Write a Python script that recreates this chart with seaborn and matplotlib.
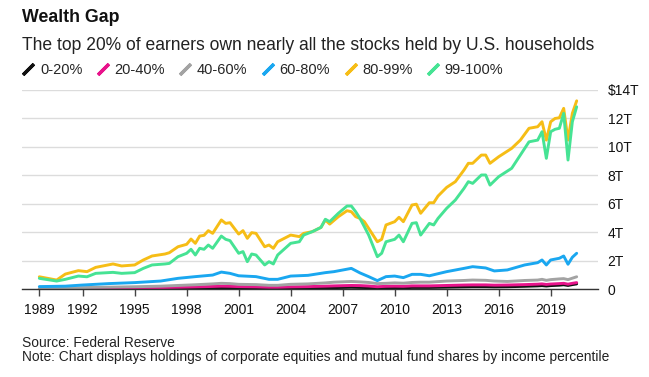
import pandas as pd
import numpy as np
import seaborn as sns
import matplotlib.pyplot as plt
from matplotlib.lines import Line2D

groups = ['0-20%', '20-40%', '40-60%', '60-80%', '80-99%', '99-100%']
colors = ['#111111', '#e8138b', '#a3a3a3', '#1aa7f0', '#f6bd16', '#46e394']

# quarterly-ish points for the two top groups (trillions of dollars)
years_top = [1989.5, 1990.5, 1991.0, 1991.75, 1992.25, 1992.75, 1993.75, 1994.25, 1995.0, 1995.5,
             1996.0, 1996.75, 1997.0, 1997.5, 1998.0, 1998.25, 1998.5, 1998.75, 1999.0, 1999.25,
             1999.5, 2000.0, 2000.25, 2000.5, 2001.0, 2001.25, 2001.5, 2001.75, 2002.0, 2002.5,
             2002.75, 2003.0, 2003.25, 2004.0, 2004.5, 2004.75, 2005.25, 2005.75, 2006.0, 2006.25,
             2006.75, 2007.25, 2007.5, 2007.75, 2008.0, 2008.25, 2008.5, 2009.0, 2009.25, 2009.5,
             2010.0, 2010.25, 2010.5, 2011.0, 2011.25, 2011.5, 2012.0, 2012.25, 2012.5, 2013.0,
             2013.5, 2014.0, 2014.25, 2014.5, 2015.0, 2015.25, 2015.5, 2016.0, 2016.75, 2017.25,
             2017.75, 2018.25, 2018.5, 2018.75, 2019.0, 2019.25, 2019.5, 2019.75, 2020.0, 2020.25,
             2020.5]
pct_80_99 = [0.88, 0.65, 1.07, 1.31, 1.24, 1.54, 1.78, 1.64, 1.71, 2.06,
             2.34, 2.48, 2.57, 2.99, 3.16, 3.53, 3.23, 3.74, 3.79, 4.12,
             3.93, 4.87, 4.63, 4.68, 3.88, 4.12, 3.58, 3.98, 3.93, 2.99,
             3.11, 2.88, 3.34, 3.81, 3.70, 3.93, 4.05, 4.35, 4.87, 4.58,
             5.10, 5.52, 5.45, 5.10, 4.98, 4.75, 4.28, 3.34, 3.51, 4.52,
             4.75, 5.06, 4.75, 5.92, 5.98, 5.34, 6.08, 6.08, 6.55, 7.16,
             7.56, 8.38, 8.85, 8.85, 9.43, 9.43, 8.85, 9.31, 9.90, 10.48,
             11.31, 11.42, 11.77, 10.48, 11.77, 12.00, 12.05, 12.71, 10.48, 12.36,
             13.24]
pct_99_100 = [0.77, 0.58, 0.70, 0.93, 0.88, 1.12, 1.19, 1.12, 1.17, 1.47,
              1.71, 1.78, 1.82, 2.29, 2.53, 2.81, 2.41, 2.88, 2.81, 3.11,
              2.88, 3.74, 3.51, 3.42, 2.53, 2.65, 1.94, 2.48, 2.41, 1.71,
              1.94, 1.78, 2.41, 3.23, 3.34, 3.81, 4.05, 4.35, 4.92, 4.75,
              5.34, 5.85, 5.85, 5.45, 4.98, 4.40, 3.81, 2.29, 2.53, 3.34,
              3.51, 3.81, 3.34, 4.63, 4.68, 3.81, 4.63, 4.52, 4.98, 5.69,
              6.27, 7.09, 7.56, 7.44, 8.03, 8.03, 7.32, 7.91, 8.50, 9.43,
              10.36, 10.48, 11.07, 9.20, 11.07, 11.24, 11.31, 12.36, 9.08, 11.77,
              12.82]

# coarser points for the lower groups
years_low = [1989.5, 1991.0, 1992.0, 1993.5, 1995.0, 1996.5, 1997.5, 1998.5, 1999.5, 2000.0,
             2000.5, 2001.0, 2002.0, 2002.75, 2003.25, 2004.0, 2005.0, 2006.0, 2006.5, 2007.5,
             2008.0, 2008.5, 2009.0, 2009.5, 2010.0, 2010.5, 2011.0, 2011.5, 2012.0, 2013.0,
             2014.0, 2014.5, 2015.25, 2015.75, 2016.5, 2017.5, 2018.25, 2018.5, 2018.75, 2019.0,
             2019.5, 2019.75, 2020.0, 2020.25, 2020.5]
pct_60_80 = [0.19, 0.22, 0.30, 0.40, 0.47, 0.58, 0.77, 0.89, 1.00, 1.21,
             1.12, 0.95, 0.89, 0.70, 0.70, 0.93, 0.98, 1.17, 1.24, 1.47,
             1.15, 0.89, 0.61, 0.89, 0.93, 0.82, 1.05, 1.05, 0.95, 1.24,
             1.47, 1.59, 1.50, 1.29, 1.36, 1.71, 1.87, 2.06, 1.71, 2.06,
             2.18, 2.34, 1.76, 2.25, 2.53]
pct_40_60 = [0.05, 0.08, 0.12, 0.15, 0.18, 0.22, 0.27, 0.32, 0.38, 0.42,
             0.40, 0.35, 0.33, 0.28, 0.28, 0.35, 0.38, 0.45, 0.50, 0.55,
             0.52, 0.48, 0.40, 0.42, 0.45, 0.43, 0.48, 0.50, 0.50, 0.58,
             0.62, 0.65, 0.63, 0.58, 0.55, 0.62, 0.65, 0.70, 0.63, 0.68,
             0.73, 0.75, 0.68, 0.78, 0.88]
pct_20_40 = [0.02, 0.04, 0.06, 0.08, 0.10, 0.12, 0.14, 0.17, 0.20, 0.22,
             0.21, 0.19, 0.17, 0.14, 0.14, 0.17, 0.19, 0.22, 0.24, 0.27,
             0.26, 0.23, 0.18, 0.21, 0.22, 0.21, 0.24, 0.24, 0.24, 0.27,
             0.30, 0.31, 0.31, 0.29, 0.30, 0.33, 0.36, 0.38, 0.34, 0.37,
             0.40, 0.42, 0.36, 0.42, 0.47]
pct_0_20 = [0.01, 0.02, 0.03, 0.04, 0.05, 0.06, 0.07, 0.08, 0.10, 0.11,
            0.10, 0.09, 0.08, 0.07, 0.07, 0.08, 0.09, 0.11, 0.12, 0.14,
            0.13, 0.12, 0.10, 0.11, 0.12, 0.11, 0.13, 0.13, 0.13, 0.15,
            0.17, 0.18, 0.18, 0.17, 0.18, 0.21, 0.24, 0.26, 0.23, 0.26,
            0.29, 0.32, 0.27, 0.33, 0.38]

tick_years = [1989.5, 1992, 1995, 1998, 2001, 2004, 2007, 2010, 2013, 2016, 2019]
tick_labels = ['1989', '1992', '1995', '1998', '2001', '2004', '2007', '2010', '2013', '2016', '2019']
y_ticks = [0, 2, 4, 6, 8, 10, 12, 14]
y_labels = ['0', '2T', '4T', '6T', '8T', '10T', '12T', '$14T']

series = [(years_low, pct_0_20), (years_low, pct_20_40), (years_low, pct_40_60),
          (years_low, pct_60_80), (years_top, pct_80_99), (years_top, pct_99_100)]
frames = []
for name, (yrs, vals) in zip(groups, series):
    frames.append(pd.DataFrame({'year': yrs, 'value': vals, 'group': name}))
df = pd.concat(frames, ignore_index=True)

sns.set_theme(style='white')
plt.rcParams['font.family'] = ['Liberation Sans', 'DejaVu Sans']

fig = plt.figure(figsize=(6.49, 3.77), dpi=100)
ax = fig.add_axes([22 / 649, 87.7 / 377, 576 / 649, 199.3 / 377])

sns.lineplot(data=df, x='year', y='value', hue='group', hue_order=groups,
             palette=colors, estimator=None, linewidth=2.1, legend=False, ax=ax)

ax.set_xlim(1988.5, 2021.73)
ax.set_ylim(0, 14)
ax.set_xlabel('')
ax.set_ylabel('')
ax.set_xticks(tick_years)
ax.set_xticklabels(tick_labels)
ax.yaxis.tick_right()
ax.set_yticks(y_ticks)
ax.set_yticklabels(y_labels)
ax.grid(axis='y', color='#dcdcdc', linewidth=1)
ax.set_axisbelow(True)
for side in ['top', 'left', 'right']:
    ax.spines[side].set_visible(False)
ax.spines['bottom'].set_color('#333333')
ax.spines['bottom'].set_linewidth(1)
ax.tick_params(axis='x', bottom=True, direction='out', length=5, width=1,
               color='#444444', labelsize=10, labelcolor='#111111', pad=5)
ax.tick_params(axis='y', length=0, labelsize=10, labelcolor='#111111', pad=7)
for lbl in ax.get_yticklabels():
    lbl.set_horizontalalignment('left')

handles = [Line2D([0], [0], color=c, linestyle='None', marker=(2, 2, -45),
                  markersize=11, markeredgewidth=2.4) for c in colors]
ax.legend(handles, groups, ncol=6, loc='center left', frameon=False,
          bbox_to_anchor=(16 / 649, 1 - 70 / 377), bbox_transform=fig.transFigure,
          borderaxespad=0, handlelength=0.9, handletextpad=0.35, columnspacing=0.95,
          fontsize=10.5)

fig.text(22 / 649, 1 - 18 / 377, 'Wealth Gap', fontsize=12.8, fontweight='bold',
         va='center', ha='left', color='#111111')
fig.text(22 / 649, 1 - 45 / 377,
         'The top 20% of earners own nearly all the stocks held by U.S. households',
         fontsize=12.65, va='center', ha='left', color='#222222')
fig.text(22 / 649, 1 - 343 / 377, 'Source: Federal Reserve', fontsize=9.9,
         va='center', ha='left', color='#222222')
fig.text(22 / 649, 1 - 357 / 377,
         'Note: Chart displays holdings of corporate equities and mutual fund shares by income percentile',
         fontsize=9.9, va='center', ha='left', color='#222222')

fig.savefig('out.png', dpi=100)
